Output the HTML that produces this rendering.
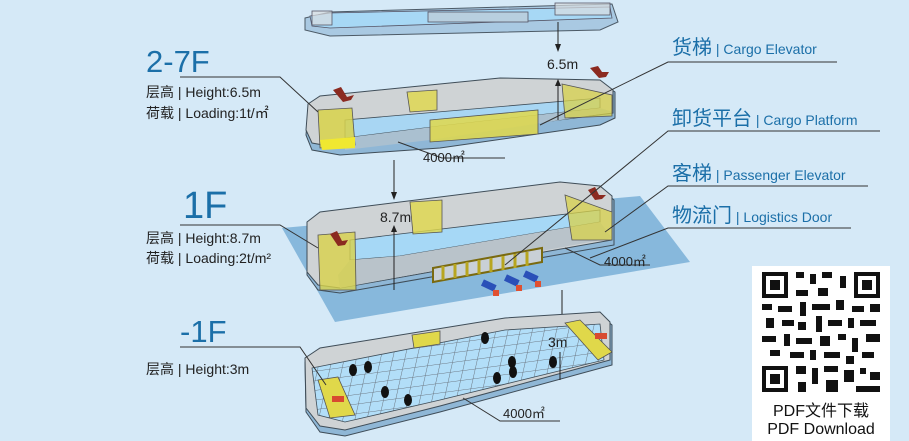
<!DOCTYPE html>
<html><head><meta charset="utf-8">
<style>
html,body{margin:0;padding:0;width:909px;height:441px;overflow:hidden;background:#d5e9f7;}
svg{display:block}
text{font-family:"Liberation Sans","Noto Sans CJK SC",sans-serif;}
</style></head><body>
<svg width="909" height="441" viewBox="0 0 909 441">
<rect width="909" height="441" fill="#d5e9f7"/>
<defs>
<pattern id="grid" width="12" height="10" patternUnits="userSpaceOnUse" patternTransform="skewX(-20) rotate(-8)">
<rect width="12" height="10" fill="#b2def8"/>
<path d="M0 0H12M0 0V10" stroke="#6a7580" stroke-width="1" fill="none"/>
</pattern>
</defs>

<!-- TOP SLAB -->
<polygon points="305,18 330,12 612,4 618,22 600,30 330,36 305,30" fill="#a9c9e2" stroke="#4c5a66" stroke-width="1"/>
<polygon points="310,16 330,13 610,7 612,18 330,28 312,26" fill="#a7d8f5" stroke="#556" stroke-width="0.8"/>
<rect x="428" y="12" width="100" height="10" fill="#b8cfdf" stroke="#556" stroke-width="0.8"/>
<rect x="312" y="11" width="20" height="14" fill="#d8dde0" fill-opacity="0.7" stroke="#556" stroke-width="0.8"/>
<rect x="555" y="3" width="55" height="12" fill="#d8dde0" fill-opacity="0.7" stroke="#556" stroke-width="0.8"/>

<!-- 2-7F -->
<polygon points="308,110 320,98 500,79 600,82 615,92 615,118 600,125 440,148 340,155 312,150 306,135" fill="#8fb7d6" stroke="#3f4d58" stroke-width="1"/>
<polygon points="308,104 320,96 500,78 600,80 613,90 613,113 340,148 312,143 306,130" fill="#cfd3d5" stroke="#3f4d58" stroke-width="1"/>
<polygon points="345,120 600,98 600,108 440,126 345,138" fill="#a8d6f3" stroke="#3f4d58" stroke-width="0.8"/>
<polygon points="345,138 440,126 600,108 613,112 430,140 345,150" fill="#aac0d0"/>
<polygon points="430,120 538,110 538,134 430,142" fill="#e0d84a" fill-opacity="0.85" stroke="#555" stroke-width="0.8"/>
<polygon points="407,92 437,90 437,110 410,112" fill="#e0d84a" fill-opacity="0.8" stroke="#555" stroke-width="0.8"/>
<polygon points="318,110 352,108 355,145 320,148" fill="#d8d24a" fill-opacity="0.85" stroke="#555" stroke-width="0.8"/>
<polygon points="320,140 355,137 355,148 322,150" fill="#f0e830"/>
<polygon points="562,84 612,95 612,116 565,118" fill="#d8d24a" fill-opacity="0.75" stroke="#555" stroke-width="0.8"/>
<path d="M333,90 l8,-3 l6,10 l7,-2 l-3,5 l-8,2z" fill="#8b2a20"/>
<path d="M590,68 l8,-2 l4,6 l7,0 l-3,5 l-7,1z" fill="#8b2a20"/>
<path d="M398,142 L442,158 H505" stroke="#333" fill="none"/>
<text x="423" y="162" font-size="13" fill="#222">4000㎡</text>

<line x1="558" y1="22" x2="558" y2="48" stroke="#222"/>
<polygon points="555,44 561,44 558,52" fill="#222"/>
<text x="547" y="69" font-size="14" fill="#222">6.5m</text>
<line x1="558" y1="82" x2="558" y2="120" stroke="#222"/>
<polygon points="555,86 561,86 558,79" fill="#222"/>

<!-- 1F -->
<polygon points="282,228 640,196 690,262 335,322" fill="#7eb2d8" fill-opacity="0.9"/>
<polygon points="307,226 320,215 560,185 600,188 614,200 614,245 340,293 318,290 307,275" fill="#8fb7d6" stroke="#3f4d58" stroke-width="1"/>
<polygon points="307,222 320,212 560,182 600,186 612,196 612,240 340,288 318,285 307,272" fill="#cfd3d5" stroke="#3f4d58" stroke-width="1"/>
<polygon points="350,240 600,210 600,222 400,256 350,260" fill="#a6d8f6" stroke="#3f4d58" stroke-width="0.8"/>
<polygon points="350,260 400,256 600,222 612,238 340,288 338,275" fill="#b9c3ca"/>
<polygon points="410,202 442,200 442,232 413,234" fill="#e0d84a" fill-opacity="0.8" stroke="#555" stroke-width="0.8"/>
<polygon points="318,235 355,232 356,290 320,290" fill="#d8d24a" fill-opacity="0.8" stroke="#555" stroke-width="0.8"/>
<polygon points="565,195 612,212 612,240 572,240" fill="#d8d24a" fill-opacity="0.75" stroke="#555" stroke-width="0.8"/>
<polygon points="433,268 542,248 542,262 433,282" fill="#c9d0d6" stroke="#7a6a10" stroke-width="2"/>
<path d="M443,266v14M455,264v14M467,262v14M479,260v14M491,258v14M503,256v14M515,254v14M527,252v14" stroke="#b8a620" stroke-width="3"/>
<g fill="#2a50b8"><rect x="482" y="282" width="14" height="7" transform="rotate(25 489 285)"/><rect x="505" y="277" width="14" height="7" transform="rotate(25 512 280)"/><rect x="524" y="273" width="14" height="7" transform="rotate(25 531 276)"/></g>
<g fill="#e05030"><rect x="493" y="290" width="6" height="6"/><rect x="516" y="285" width="6" height="6"/><rect x="535" y="281" width="6" height="6"/></g>
<path d="M330,234 l7,-3 l5,10 l6,-1 l-3,5 l-7,1z" fill="#8b2a20"/>
<path d="M588,190 l7,-3 l4,8 l7,0 l-4,4 l-7,1z" fill="#8b2a20"/>
<line x1="394" y1="160" x2="394" y2="196" stroke="#222"/>
<polygon points="391,192 397,192 394,200" fill="#222"/>
<text x="380" y="222" font-size="14" fill="#222">8.7m</text>
<line x1="394" y1="226" x2="394" y2="290" stroke="#222"/>
<polygon points="391,232 397,232 394,225" fill="#222"/>
<path d="M565,248 L600,265 H650" stroke="#333" fill="none"/>
<text x="604" y="266" font-size="13" fill="#222">4000㎡</text>
<line x1="562" y1="290" x2="562" y2="318" stroke="#222"/>

<!-- -1F -->
<polygon points="305,362 320,352 505,322 600,315 612,325 612,365 440,412 345,436 320,432 306,412" fill="#8fb7d6" stroke="#3f4d58" stroke-width="1"/>
<polygon points="305,358 320,348 505,318 600,312 610,322 610,360 440,406 345,430 320,426 306,408" fill="#cfd3d5" stroke="#3f4d58" stroke-width="1"/>
<polygon points="312,368 505,330 600,324 604,360 440,400 345,422 318,415" fill="url(#grid)" stroke="#3f4d58" stroke-width="0.8"/>
<polygon points="412,335 440,331 440,344 414,348" fill="#e0d84a" stroke="#555" stroke-width="0.8"/>
<polygon points="318,380 338,377 355,415 330,418" fill="#e0d84a" stroke="#555" stroke-width="0.8"/>
<polygon points="565,323 580,320 612,352 598,360" fill="#e0d84a" stroke="#555" stroke-width="0.8"/>
<g fill="#111"><ellipse cx="353" cy="370" rx="4" ry="6"/><ellipse cx="368" cy="367" rx="4" ry="6"/><ellipse cx="385" cy="392" rx="4" ry="6"/><ellipse cx="408" cy="400" rx="4" ry="6"/><ellipse cx="485" cy="338" rx="4" ry="6"/><ellipse cx="512" cy="362" rx="4" ry="6"/><ellipse cx="497" cy="378" rx="4" ry="6"/><ellipse cx="513" cy="372" rx="4" ry="6"/><ellipse cx="553" cy="362" rx="4" ry="6"/></g>
<rect x="332" y="396" width="12" height="6" fill="#d84a30"/><rect x="595" y="333" width="12" height="6" fill="#d84a30"/>
<text x="548" y="347" font-size="14" fill="#222">3m</text>
<line x1="560" y1="352" x2="560" y2="380" stroke="#222"/>
<path d="M463,398 L500,421 H560" stroke="#333" fill="none"/>
<text x="503" y="418" font-size="13" fill="#222">4000㎡</text>

<!-- left labels -->
<text x="146" y="72" font-size="31" fill="#1b6fa8">2-7F</text>
<path d="M180,77 H280 L318,112" stroke="#333" fill="none"/>
<text x="146" y="97" font-size="14" fill="#222">层高 | Height:6.5m</text>
<text x="146" y="118" font-size="14" fill="#222">荷载 | Loading:1t/㎡</text>
<text x="183" y="218" font-size="38" fill="#1b6fa8">1F</text>
<path d="M180,225 H280 L318,248" stroke="#333" fill="none"/>
<text x="146" y="243" font-size="14" fill="#222">层高 | Height:8.7m</text>
<text x="146" y="263" font-size="14" fill="#222">荷载 | Loading:2t/m²</text>
<text x="180" y="342" font-size="31" fill="#1b6fa8">-1F</text>
<path d="M180,347 H300 L326,385" stroke="#333" fill="none"/>
<text x="146" y="374" font-size="14" fill="#222">层高 | Height:3m</text>

<!-- right labels -->
<text x="672" y="54" fill="#1b6fa8"><tspan font-size="20">货梯</tspan><tspan font-size="14"> | Cargo Elevator</tspan></text>
<path d="M837,62 H668 L540,125" stroke="#333" fill="none"/>
<text x="672" y="125" fill="#1b6fa8"><tspan font-size="20">卸货平台</tspan><tspan font-size="14"> | Cargo Platform</tspan></text>
<path d="M880,131 H668 L505,265" stroke="#333" fill="none"/>
<text x="672" y="180" fill="#1b6fa8"><tspan font-size="20">客梯</tspan><tspan font-size="14"> | Passenger Elevator</tspan></text>
<path d="M868,186 H668 L605,232" stroke="#333" fill="none"/>
<text x="672" y="222" fill="#1b6fa8"><tspan font-size="20">物流门</tspan><tspan font-size="14"> | Logistics Door</tspan></text>
<path d="M851,228 H668 L590,258" stroke="#333" fill="none"/>

<!-- QR -->
<rect x="752" y="266" width="138" height="175" fill="#fff"/>
<g fill="#111">
<rect x="762" y="272" width="26" height="26"/><rect x="766" y="276" width="18" height="18" fill="#fff"/><rect x="770" y="280" width="10" height="10"/>
<rect x="854" y="272" width="26" height="26"/><rect x="858" y="276" width="18" height="18" fill="#fff"/><rect x="862" y="280" width="10" height="10"/>
<rect x="762" y="366" width="26" height="26"/><rect x="766" y="370" width="18" height="18" fill="#fff"/><rect x="770" y="374" width="10" height="10"/>
<path d="M796 272h8v6h-8zM810 274h6v10h-6zM822 272h10v6h-10zM840 276h6v12h-6zM796 290h12v6h-12zM818 288h10v8h-10zM762 304h10v6h-10zM778 306h14v6h-14zM800 302h6v14h-6zM812 304h18v6h-18zM836 300h8v10h-8zM852 306h12v6h-12zM870 304h10v8h-10zM766 318h8v10h-8zM782 320h12v6h-12zM798 322h8v8h-8zM816 316h6v16h-6zM828 320h14v6h-14zM848 318h6v10h-6zM860 320h16v6h-16zM762 336h14v6h-14zM784 334h6v12h-6zM796 338h16v6h-16zM820 336h10v10h-10zM838 334h8v6h-8zM852 338h6v14h-6zM866 334h14v8h-14zM770 350h10v6h-10zM790 352h14v6h-14zM810 350h6v10h-6zM824 352h16v6h-16zM846 356h8v8h-8zM862 352h12v6h-12zM796 366h10v8h-10zM812 368h6v16h-6zM824 366h14v6h-14zM844 370h10v12h-10zM860 368h6v6h-6zM870 372h10v8h-10zM798 382h8v10h-8zM826 380h12v12h-12zM856 386h24v6h-24z"/>
</g>
<text x="821" y="416" font-size="16" fill="#111" text-anchor="middle">PDF文件下载</text>
<text x="821" y="434" font-size="16" fill="#111" text-anchor="middle">PDF Download</text>
</svg>
</body></html>
